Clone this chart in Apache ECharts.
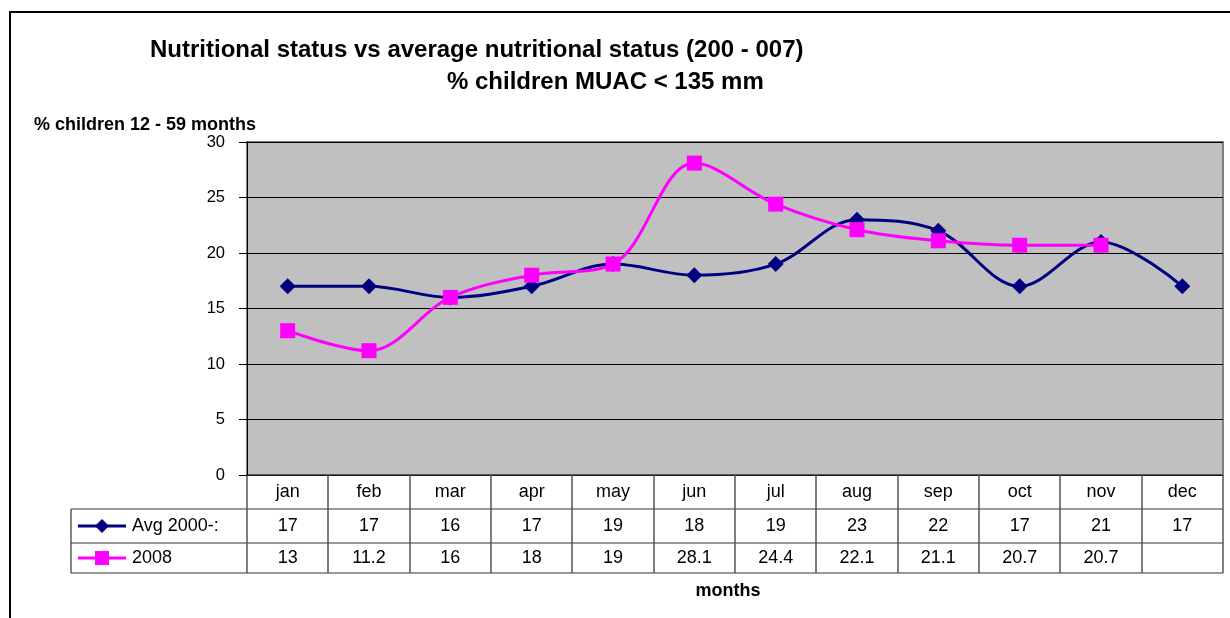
<!DOCTYPE html>
<html>
<head>
<meta charset="utf-8">
<script src="https://cdn.jsdelivr.net/npm/echarts@6/dist/echarts.min.js"></script>
<style>
  html, body { margin: 0; padding: 0; background: #fff; }
  #main { width: 1230px; height: 618px; }
</style>
</head>
<body>
<div id="main"></div>
<script>
var months = ['jan', 'feb', 'mar', 'apr', 'may', 'jun', 'jul', 'aug', 'sep', 'oct', 'nov', 'dec'];
var avgValues = [17, 17, 16, 17, 19, 18, 19, 23, 22, 17, 21, 17];
var values2008 = [13, 11.2, 16, 18, 19, 28.1, 24.4, 22.1, 21.1, 20.7, 20.7, null];
var seriesNames = ['Avg 2000-:', '2008'];
var yTicks = [0, 5, 10, 15, 20, 25, 30];

var font = 'Liberation Sans, Arial, sans-serif';
var plotLeft = 247, plotRight = 1223, plotTop = 142, plotBottom = 475;
var rowH = [34, 34, 30];
var legendLeft = 71;

var chart = echarts.init(document.getElementById('main'));

chart.setOption({
  animation: false,
  backgroundColor: '#fff',
  title: [
    { text: 'Nutritional status vs average nutritional status (200 - 007)', left: 145, top: 33,
      textStyle: { fontFamily: font, fontSize: 24, fontWeight: 'bold', color: '#000' } },
    { text: '% children MUAC < 135 mm', left: 442, top: 65,
      textStyle: { fontFamily: font, fontSize: 24, fontWeight: 'bold', color: '#000' } }
  ],
  grid: {
    left: plotLeft, right: 1230 - plotRight, top: plotTop, bottom: 618 - plotBottom,
    show: true, backgroundColor: '#c0c0c0', borderColor: '#808080', borderWidth: 2
  },
  xAxis: {
    type: 'category',
    data: months,
    boundaryGap: true,
    axisLine: { show: false },
    axisTick: { show: false },
    axisLabel: { show: false }
  },
  yAxis: {
    type: 'value',
    min: yTicks[0], max: yTicks[yTicks.length - 1], interval: 5,
    axisLine: { show: true, lineStyle: { color: '#000', width: 1 } },
    axisTick: { show: true, length: 8, lineStyle: { color: '#000' } },
    axisLabel: { fontFamily: font, fontSize: 16.5, color: '#000', margin: 22 },
    splitLine: { show: true, lineStyle: { color: '#000', width: 1 } }
  },
  series: [
    {
      name: seriesNames[0], type: 'line', data: avgValues, smooth: 0.35,
      symbol: 'diamond', symbolSize: 16,
      lineStyle: { color: '#000080', width: 3 },
      itemStyle: { color: '#000080' }, z: 3
    },
    {
      name: seriesNames[1], type: 'line', data: values2008, smooth: 0.35,
      symbol: 'rect', symbolSize: 15,
      lineStyle: { color: '#ff00ff', width: 3 },
      itemStyle: { color: '#ff00ff' }, z: 4
    }
  ]
});

// data table under the plot
var g = [];
var lineStyle = { stroke: '#333', lineWidth: 1.2 };
var catW = (plotRight - plotLeft) / months.length;
var y0 = plotBottom, y1 = y0 + rowH[0], y2 = y1 + rowH[1], y3 = y2 + rowH[2];

// horizontal lines
g.push({ type: 'line', shape: { x1: plotLeft, y1: y0, x2: plotRight, y2: y0 }, style: lineStyle });
g.push({ type: 'line', shape: { x1: legendLeft, y1: y1, x2: plotRight, y2: y1 }, style: lineStyle });
g.push({ type: 'line', shape: { x1: legendLeft, y1: y2, x2: plotRight, y2: y2 }, style: lineStyle });
g.push({ type: 'line', shape: { x1: legendLeft, y1: y3, x2: plotRight, y2: y3 }, style: lineStyle });
g.push({ type: 'line', shape: { x1: legendLeft, y1: y1, x2: legendLeft, y2: y3 }, style: lineStyle });

for (var i = 0; i <= months.length; i++) {
  var x = Math.round(plotLeft + i * catW);
  g.push({ type: 'line', shape: { x1: x, y1: y0, x2: x, y2: y3 }, style: { stroke: '#555', lineWidth: 1.5 } });
}

function cellText(txt, cx, cy) {
  return { type: 'text', x: cx, y: cy,
    style: { text: txt, fill: '#000', font: '18px ' + font, align: 'center', verticalAlign: 'middle' } };
}

for (var j = 0; j < months.length; j++) {
  var cx = chart.convertToPixel({ xAxisIndex: 0 }, months[j]);
  g.push(cellText(months[j], cx, (y0 + y1) / 2));
  g.push(cellText(String(avgValues[j]), cx, (y1 + y2) / 2));
  if (values2008[j] != null) g.push(cellText(String(values2008[j]), cx, (y2 + y3) / 2));
}

// legend keys in the table
var keyColors = ['#000080', '#ff00ff'];
var rowsMid = [(y1 + y2) / 2, (y2 + y3) / 2];
for (var k = 0; k < 2; k++) {
  var ym = rowsMid[k];
  g.push({ type: 'line', shape: { x1: 78, y1: ym, x2: 126, y2: ym }, style: { stroke: keyColors[k], lineWidth: 3 } });
  if (k === 0) {
    g.push({ type: 'polygon', shape: { points: [[102, ym - 7], [109, ym], [102, ym + 7], [95, ym]] }, style: { fill: keyColors[k] } });
  } else {
    g.push({ type: 'rect', shape: { x: 95, y: ym - 7, width: 14, height: 14 }, style: { fill: keyColors[k] } });
  }
  g.push({ type: 'text', x: 132, y: ym,
    style: { text: seriesNames[k], fill: '#000', font: '18px ' + font, align: 'left', verticalAlign: 'middle' } });
}

// y axis title
g.push({ type: 'text', x: 34, y: 125,
  style: { text: '% children 12 - 59 months', fill: '#000', font: 'bold 18px ' + font, align: 'left', verticalAlign: 'middle' } });

// x axis title
g.push({ type: 'text', x: 728, y: 591,
  style: { text: 'months', fill: '#000', font: 'bold 18px ' + font, align: 'center', verticalAlign: 'middle' } });

// outer chart frame
g.push({ type: 'polyline', shape: { points: [[10, 620], [10, 12], [1232, 12]] }, style: { stroke: '#000', lineWidth: 2, fill: null } });

chart.setOption({ graphic: g });
</script>
</body>
</html>
